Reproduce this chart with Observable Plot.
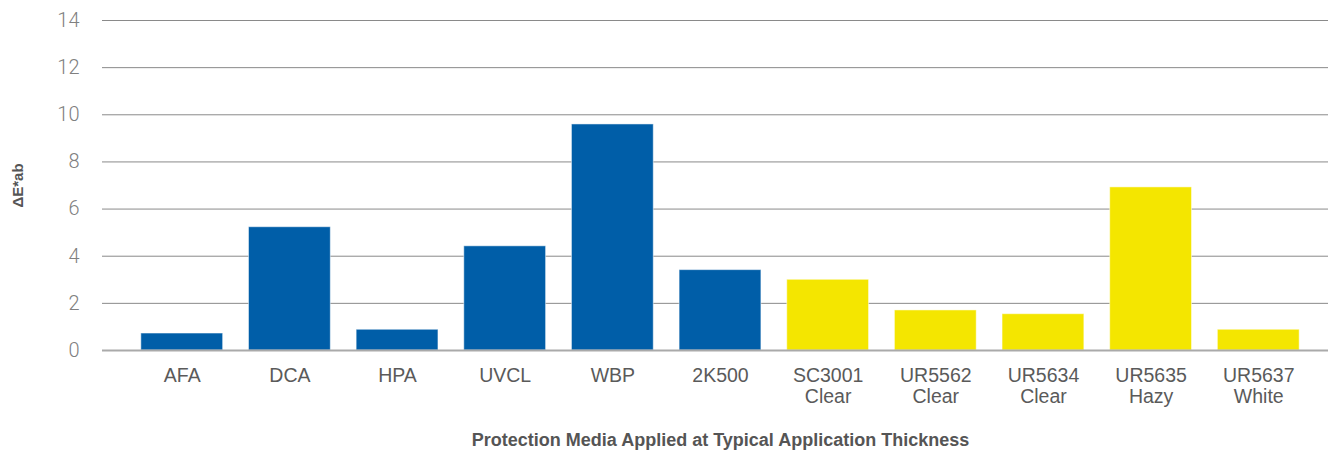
<!DOCTYPE html>
<html>
<head>
<meta charset="utf-8">
<script src="https://cdn.jsdelivr.net/npm/d3@7"></script>
<script src="https://cdn.jsdelivr.net/npm/@observablehq/plot@0.6"></script>
<style>
  html, body { margin: 0; padding: 0; background: #fff; }
  #chart { width: 1328px; height: 450px; overflow: hidden; }
</style>
</head>
<body>
<div id="chart"></div>
<script>
const categories = ["AFA", "DCA", "HPA", "UVCL", "WBP", "2K500", "SC3001\nClear", "UR5562\nClear", "UR5634\nClear", "UR5635\nHazy", "UR5637\nWhite"];
const values = [0.72, 5.23, 0.88, 4.42, 9.59, 3.41, 3.0, 1.7, 1.54, 6.92, 0.88];
const groups = ["Coating", "Coating", "Coating", "Coating", "Coating", "Coating", "Film", "Film", "Film", "Film", "Film"];
const yTicks = [0, 2, 4, 6, 8, 10, 12, 14];
const yLabel = "ΔE*ab";
const xLabel = "Protection Media Applied at Typical Application Thickness";

const data = categories.map((c, i) => ({category: c, value: values[i], group: groups[i]}));

const chart = Plot.plot({
  width: 1328,
  height: 450,
  marginLeft: 115,
  marginRight: 3,
  marginTop: 20,
  marginBottom: 100,
  style: {fontFamily: "'Liberation Sans', Arial, sans-serif", background: "#fff"},
  x: {domain: categories, paddingInner: 0.24, paddingOuter: 0.24, round: false, label: null},
  y: {domain: [0, 14], ticks: yTicks, label: null},
  color: {domain: ["Coating", "Film"], range: ["#005EA8", "#F4E600"]},
  marks: [
    Plot.ruleY(yTicks.filter(d => d > 0), {stroke: "#8a8a8a", strokeWidth: 1, insetLeft: -13, insetRight: -3}),
    Plot.barY(data, {x: "category", y: "value", fill: "group", stroke: "#ffffff", strokeWidth: 1, strokeOpacity: 0.5}),
    Plot.ruleY([0], {stroke: "#aaaaaa", strokeWidth: 2, insetLeft: -13, insetRight: -3}),
    Plot.axisY({ticks: yTicks, tickSize: 0, tickPadding: 36, fontSize: 20, fill: "#808080", fontWeight: 300, fontFamily: "Roboto, 'Liberation Sans', sans-serif", label: null}),
    Plot.axisX({tickSize: 0, tickPadding: 17, fontSize: 19.5, fill: "#5a5a5a", lineHeight: 1.06, label: null}),
    Plot.text([yLabel], {frameAnchor: "left", rotate: -90, dx: -97, textAnchor: "middle", fontSize: 15, fontWeight: "bold", fill: "#555", lineAnchor: "middle"}),
    Plot.text([xLabel], {frameAnchor: "bottom", dy: 90, fontSize: 18, fontWeight: "bold", fill: "#555", lineAnchor: "middle"})
  ]
});
document.getElementById("chart").appendChild(chart);
</script>
</body>
</html>
